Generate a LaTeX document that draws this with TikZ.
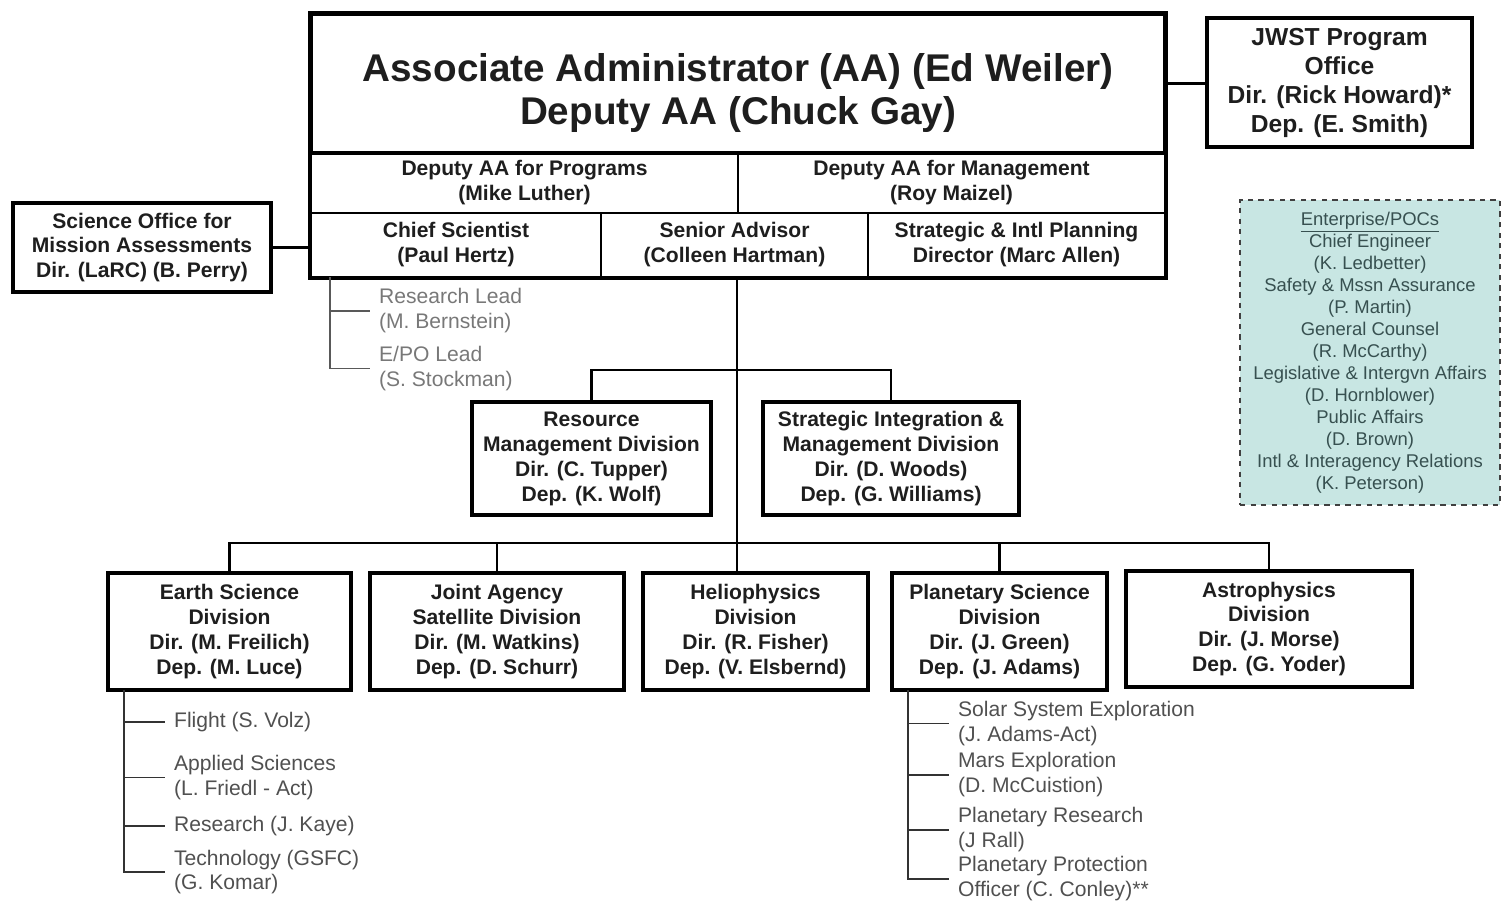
\documentclass[tikz,border=0pt]{standalone}
\usepackage{fontspec}
\setmainfont{Liberation Sans}
\definecolor{pocfill}{RGB}{200,230,227}
\definecolor{inktext}{RGB}{30,30,30}
\definecolor{subtext}{RGB}{80,80,80}
\definecolor{leadtext}{RGB}{120,120,120}
\definecolor{poctext}{RGB}{55,80,80}

\begin{document}
\begin{tikzpicture}[x=0.02cm, y=-0.02cm,
        box/.style={rectangle, draw, line width=1.8pt, inner sep=0pt, align=center, text=inktext, font=\bfseries\fontsize{12}{14.2}\selectfont},
        cell/.style={box, line width=1.3pt},
        head/.style={box, font=\bfseries\fontsize{22}{24.4}\selectfont},
        pocbox/.style={rectangle, draw=black!75, dashed, line width=1.3pt, fill=pocfill, inner sep=0pt, align=center, text=poctext, font=\fontsize{10.5}{12.5}\selectfont},
        item/.style={anchor=west, align=left, inner xsep=5pt, inner ysep=0pt, text=subtext, font=\fontsize{12}{14.2}\selectfont},
        link/.style={line width=1.6pt},
        sublink/.style={line width=1.1pt, black!80},
    ]
        \useasboundingbox (0,0) rectangle (1503,900);

        % Top block
        \node[head, minimum width=17.08cm, minimum height=2.78cm] (aa) at (738,83.5) {\rule{0pt}{27pt}Associate Administrator (AA) (Ed Weiler)\\Deputy AA (Chuck Gay)};
        \node[cell, minimum width=8.54cm, minimum height=1.2cm] (progdep) at (524.5,183) {Deputy AA for Programs\\(Mike Luther)};
        \node[cell, minimum width=8.54cm, minimum height=1.2cm] (mgmtdep) at (951.5,183) {Deputy AA for Management\\(Roy Maizel)};
        \node[cell, minimum width=5.8cm, minimum height=1.28cm] (chiefsci) at (456,245) {Chief Scientist\\(Paul Hertz)};
        \node[cell, minimum width=5.34cm, minimum height=1.28cm] (senadv) at (734.5,245) {Senior Advisor\\(Colleen Hartman)};
        \node[cell, minimum width=5.94cm, minimum height=1.28cm] (stratplan) at (1016.5,245) {Strategic \& Intl Planning\\Director (Marc Allen)};
        \draw[line width=2pt] (aa.north west) rectangle (stratplan.south east);

        % Side offices
        \node[box, font=\bfseries\fontsize{14}{16.5}\selectfont, minimum width=5.3cm, minimum height=2.58cm] (jwst) at (1339.5,82.5) {JWST Program\\Office\\Dir. (Rick Howard)*\\Dep. (E. Smith)};
        \node[box, minimum width=5.16cm, minimum height=1.78cm] (sciofc) at (142,247.5) {Science Office for\\Mission Assessments\\Dir. (LaRC) (B. Perry)};
        \node[pocbox, minimum width=5.2cm, minimum height=6.1cm] (pocs) at (1370,352.5) {\underline{Enterprise/POCs}\\Chief Engineer\\(K. Ledbetter)\\Safety \& Mssn Assurance\\(P. Martin)\\General Counsel\\(R. McCarthy)\\Legislative \& Intergvn Affairs\\(D. Hornblower)\\Public Affairs\\(D. Brown)\\Intl \& Interagency Relations\\(K. Peterson)};
        \draw[link] (aa.east) -- (aa.east -| jwst.west);
        \draw[link] (sciofc.east) -- (sciofc.east -| chiefsci.west);

        % Chief scientist leads
        \coordinate (lstem) at (330,277);
        \node[item, text=leadtext] (rlead) at (370,311) {Research Lead\\(M. Bernstein)};
        \node[item, text=leadtext] (epo) at (370,368.5) {E/PO Lead\\(S. Stockman)};
        \foreach \n in {rlead,epo}
            \draw[sublink, black!65] (lstem) |- (\n.west);

        % Management divisions
        \node[box, minimum width=4.78cm, minimum height=2.26cm] (resmgmt) at (591.5,458.5) {Resource\\Management Division\\Dir. (C. Tupper)\\Dep. (K. Wolf)};
        \node[box, minimum width=5.12cm, minimum height=2.26cm] (simd) at (891,458.5) {Strategic Integration \&\\Management Division\\Dir. (D. Woods)\\Dep. (G. Williams)};
        \coordinate (hub) at (737,370);
        \coordinate (bus) at (737,543);
        \draw[link] (senadv.south -| bus) -- (bus);
        \draw[link] (resmgmt.north) |- (hub) -| (simd.north);

        % Science divisions
        \node[box, minimum width=4.86cm, minimum height=2.34cm] (earth) at (229.5,631.5) {Earth Science\\Division\\Dir. (M. Freilich)\\Dep. (M. Luce)};
        \node[box, minimum width=5.08cm, minimum height=2.34cm] (jasd) at (497,631.5) {Joint Agency\\Satellite Division\\Dir. (M. Watkins)\\Dep. (D. Schurr)};
        \node[box, minimum width=4.5cm, minimum height=2.34cm] (helio) at (755.5,631.5) {Heliophysics\\Division\\Dir. (R. Fisher)\\Dep. (V. Elsbernd)};
        \node[box, minimum width=4.3cm, minimum height=2.34cm] (planet) at (999.5,631.5) {Planetary Science\\Division\\Dir. (J. Green)\\Dep. (J. Adams)};
        \node[box, minimum width=5.72cm, minimum height=2.32cm] (astro) at (1269,629) {Astrophysics\\Division\\Dir. (J. Morse)\\Dep. (G. Yoder)};
        \draw[link] (earth.north) |- (bus) -| (astro.north);
        \draw[link] (jasd.north) -- (jasd.north |- bus);
        \draw[link] (planet.north) -- (planet.north |- bus);
        \draw[link] (bus) -- (bus |- helio.north);

        % Earth science branches
        \coordinate (estem) at (124,690);
        \node[item] (flight) at (165,722) {Flight (S. Volz)};
        \node[item] (applsci) at (165,777.5) {Applied Sciences\\(L. Friedl - Act)};
        \node[item] (resj) at (165,826) {Research (J. Kaye)};
        \node[item] (techno) at (165,872) {Technology (GSFC)\\(G. Komar)};
        \foreach \n in {flight,applsci,resj,techno}
            \draw[sublink] (estem) |- (\n.west);

        % Planetary science branches
        \coordinate (pstem) at (908,690);
        \node[item] (sse) at (949,723.5) {Solar System Exploration\\(J. Adams-Act)};
        \node[item] (mars) at (949,775) {Mars Exploration\\(D. McCuistion)};
        \node[item] (prsch) at (949,830) {Planetary Research\\(J Rall)};
        \node[item] (ppo) at (949,879) {Planetary Protection\\Officer (C. Conley)**};
        \foreach \n in {sse,mars,prsch,ppo}
            \draw[sublink] (pstem) |- (\n.west);
    \end{tikzpicture}
\end{document}
